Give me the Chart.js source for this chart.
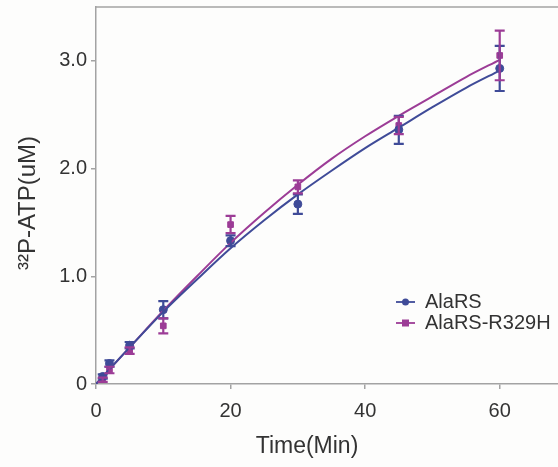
<!DOCTYPE html>
<html>
<head>
<meta charset="utf-8">
<script src="https://cdn.jsdelivr.net/npm/chart.js@4"></script>
<style>
  html,body{margin:0;padding:0;background:#fdfdfc;overflow:hidden;}
  #wrap{width:572px;height:467px;}
</style>
</head>
<body>
<div id="wrap"><canvas id="c" width="572" height="467"></canvas></div>
<script>
/* ---------- data ---------- */
const timePts   = [1, 2, 5, 10, 20, 30, 45, 60];
const alaMean   = [0.07, 0.19, 0.36, 0.69, 1.33, 1.67, 2.36, 2.93];
const alaErr    = [0.02, 0.03, 0.03, 0.08, 0.05, 0.09, 0.13, 0.21];
const mutMean   = [0.04, 0.13, 0.31, 0.54, 1.48, 1.83, 2.40, 3.05];
const mutErr    = [0.02, 0.03, 0.03, 0.07, 0.08, 0.06, 0.08, 0.23];

/* fitted curves */
const fitTime   = [0, 5, 10, 15, 20, 25, 30, 35, 40, 45, 50, 55, 60];
const alaFit    = [0, 0.34, 0.67, 0.97, 1.26, 1.52, 1.76, 1.98, 2.19, 2.38, 2.57, 2.75, 2.91];
const mutFit    = [0, 0.34, 0.68, 1.00, 1.31, 1.59, 1.85, 2.09, 2.30, 2.49, 2.67, 2.85, 3.01];

const xTicks = [0, 20, 40, 60];
const yTicks = [0, 1, 2, 3];
const yTickLabels = ["0", "1.0", "2.0", "3.0"];
const seriesNames = ["AlaRS", "AlaRS-R329H"];

const BLUE = "#3f4b98", MAG = "#9c3c96", AXIS = "#a3a3a3";
const FONT = "'Liberation Sans', Arial, sans-serif";

const pts = (xs, ys) => xs.map((x, i) => ({x, y: ys[i]}));

/* ---------- helpers / plugins ---------- */
const errorBars = {
  id: "errorBars",
  afterDatasetsDraw(chart){
    const {ctx, scales:{x, y}} = chart;
    const sets = [[alaMean, alaErr, BLUE], [mutMean, mutErr, MAG]];
    ctx.save();
    ctx.lineWidth = 2.2;
    sets.forEach(([m, e, col]) => {
      ctx.strokeStyle = col;
      timePts.forEach((t, i) => {
        const px = x.getPixelForValue(t);
        const top = y.getPixelForValue(m[i] + e[i]);
        const bot = y.getPixelForValue(m[i] - e[i]);
        ctx.beginPath();
        ctx.moveTo(px, top); ctx.lineTo(px, bot);
        ctx.moveTo(px - 5, top); ctx.lineTo(px + 5, top);
        ctx.moveTo(px - 5, bot); ctx.lineTo(px + 5, bot);
        ctx.stroke();
      });
    });
    ctx.restore();
  }
};

const decor = {
  id: "decor",
  afterDraw(chart){
    const {ctx, chartArea:a} = chart;
    ctx.save();
    // top frame line
    ctx.strokeStyle = AXIS; ctx.lineWidth = 1.5;
    ctx.beginPath(); ctx.moveTo(a.left, a.top); ctx.lineTo(a.right, a.top); ctx.stroke();

    // axis titles
    ctx.fillStyle = "#333";
    ctx.font = "23px " + FONT;
    ctx.textAlign = "center"; ctx.textBaseline = "middle";
    ctx.fillText("Time(Min)", 307, 447);
    ctx.font = "24px " + FONT;
    ctx.translate(28, 203); ctx.rotate(-Math.PI/2);
    ctx.fillText("\u00b3\u00b2P-ATP(uM)", 0, 0);
    ctx.restore();

    // legend
    ctx.save();
    const rows = [[BLUE, "circle"], [MAG, "rect"]];
    ctx.font = "20px " + FONT;
    ctx.textBaseline = "middle"; ctx.textAlign = "left";
    rows.forEach(([col, shape], i) => {
      const yy = 302 + i * 21;
      ctx.strokeStyle = col; ctx.fillStyle = col; ctx.lineWidth = 1.8;
      ctx.beginPath(); ctx.moveTo(396, yy); ctx.lineTo(415, yy); ctx.stroke();
      ctx.beginPath();
      if(shape === "circle") ctx.arc(405.5, yy, 3.5, 0, Math.PI*2);
      else ctx.rect(402, yy - 3.5, 7, 7);
      ctx.fill();
      ctx.fillStyle = "#333";
      ctx.fillText(seriesNames[i], 425, yy);
    });
    ctx.restore();
  }
};

/* ---------- chart ---------- */
new Chart(document.getElementById("c"), {
  type: "scatter",
  data: {
    datasets: [
      {label:"fit1", type:"line", data:pts(fitTime, alaFit), borderColor:BLUE, borderWidth:2,
       pointRadius:0, cubicInterpolationMode:"monotone", fill:false},
      {label:"fit2", type:"line", data:pts(fitTime, mutFit), borderColor:MAG, borderWidth:2,
       pointRadius:0, cubicInterpolationMode:"monotone", fill:false},
      {label:seriesNames[0], data:pts(timePts, alaMean), backgroundColor:BLUE, borderColor:BLUE,
       pointStyle:"circle", pointRadius:4},
      {label:seriesNames[1], data:pts(timePts, mutMean), backgroundColor:MAG, borderColor:MAG,
       pointStyle:"rect", pointRadius:4}
    ]
  },
  options: {
    responsive:false, animation:false,
    layout:{padding:{top:7, right:5, left:0, bottom:0}},
    plugins:{legend:{display:false}, tooltip:{enabled:false}},
    scales:{
      x:{
        type:"linear", min:0, max:70,
        afterBuildTicks: s => { s.ticks = xTicks.map(v => ({value:v})); },
        afterFit: s => { s.height = 83; s.paddingLeft = 0; s.paddingRight = 0; },
        grid:{drawOnChartArea:false, tickLength:5, color:AXIS, lineWidth:1.5},
        border:{color:AXIS, width:1.5},
        ticks:{color:"#333", font:{family:FONT, size:20}, padding:10, maxRotation:0}
      },
      y:{
        min:0, max:3.5,
        afterBuildTicks: s => { s.ticks = yTicks.map(v => ({value:v})); },
        afterFit: s => { s.width = 96; s.paddingTop = 0; s.paddingBottom = 0; },
        grid:{drawOnChartArea:false, tickLength:5, color:AXIS, lineWidth:1.5},
        border:{color:AXIS, width:1.5},
        ticks:{color:"#333", font:{family:FONT, size:20}, padding:4,
               callback: (v) => yTickLabels[yTicks.indexOf(v)]}
      }
    }
  },
  plugins:[errorBars, decor]
});
</script>
</body>
</html>
